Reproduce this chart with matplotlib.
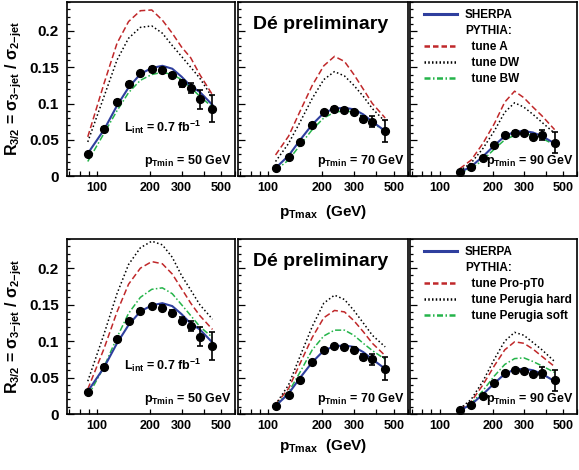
import numpy as np
import matplotlib
matplotlib.use('Agg')
import matplotlib.pyplot as plt
from matplotlib.lines import Line2D
from matplotlib.ticker import FixedLocator, FixedFormatter, MultipleLocator, NullFormatter

plt.rcParams['font.family'] = ['Liberation Sans', 'DejaVu Sans']
plt.rcParams['font.weight'] = 'bold'
plt.rcParams['mathtext.fontset'] = 'custom'
plt.rcParams['mathtext.rm'] = 'Liberation Sans:bold'
plt.rcParams['mathtext.it'] = 'Liberation Sans:bold'
plt.rcParams['mathtext.bf'] = 'Liberation Sans:bold'
plt.rcParams['mathtext.sf'] = 'Liberation Sans:bold'

# pTmax bin centres (GeV)
pt_bins = [89, 110, 130, 151, 176, 204, 234, 266, 300, 338, 380, 448]
pt_min = [50, 70, 90]
first_bin = [0, 1, 2]   # first bin used for each pTmin

# D0 data
data_50 = [0.030, 0.065, 0.1025, 0.127, 0.1416, 0.148, 0.146, 0.139, 0.128, 0.121, 0.106, 0.093]
err_50 = [0.002, 0.002, 0.002, 0.002, 0.002, 0.002, 0.003, 0.003, 0.005, 0.007, 0.013, 0.019]
data_70 = [0.0106, 0.0267, 0.0464, 0.071, 0.0879, 0.0929, 0.0915, 0.0883, 0.0786, 0.0749, 0.062]
err_70 = [0.001, 0.001, 0.001, 0.002, 0.002, 0.002, 0.002, 0.003, 0.004, 0.008, 0.0156]
data_90 = [0.0055, 0.0129, 0.0244, 0.0432, 0.056, 0.060, 0.0589, 0.0543, 0.0566, 0.046]
err_90 = [0.001, 0.001, 0.001, 0.001, 0.002, 0.002, 0.002, 0.003, 0.0075, 0.0143]

# SHERPA
sherpa_50 = [0.031, 0.064, 0.097, 0.122, 0.1407, 0.149, 0.152, 0.148, 0.137, 0.124, 0.116, 0.098]
sherpa_70 = [0.011, 0.028, 0.050, 0.071, 0.087, 0.093, 0.094, 0.092, 0.085, 0.075, 0.062]
sherpa_90 = [0.005, 0.013, 0.027, 0.042, 0.055, 0.061, 0.062, 0.060, 0.055, 0.045]

# PYTHIA, top row tunes
tuneA_50 = [0.054, 0.128, 0.183, 0.213, 0.228, 0.229, 0.215, 0.197, 0.178, 0.163, 0.140, 0.112]
tuneA_70 = [0.029, 0.055, 0.090, 0.125, 0.152, 0.165, 0.158, 0.140, 0.120, 0.100, 0.080]
tuneA_90 = [0.010, 0.022, 0.045, 0.072, 0.102, 0.117, 0.108, 0.095, 0.083, 0.064]
tuneDW_50 = [0.047, 0.110, 0.160, 0.190, 0.205, 0.207, 0.197, 0.180, 0.165, 0.150, 0.135, 0.108]
tuneDW_70 = [0.020, 0.045, 0.075, 0.107, 0.133, 0.144, 0.138, 0.125, 0.110, 0.093, 0.075]
tuneDW_90 = [0.007, 0.018, 0.038, 0.062, 0.088, 0.101, 0.095, 0.085, 0.074, 0.059]
tuneBW_50 = [0.020, 0.059, 0.090, 0.115, 0.132, 0.140, 0.143, 0.140, 0.133, 0.122, 0.110, 0.095]
tuneBW_70 = [0.008, 0.022, 0.043, 0.064, 0.080, 0.088, 0.090, 0.088, 0.082, 0.073, 0.062]
tuneBW_90 = [0.004, 0.010, 0.022, 0.037, 0.050, 0.056, 0.058, 0.056, 0.052, 0.043]

# PYTHIA, bottom row tunes
propt0_50 = [0.034, 0.090, 0.140, 0.178, 0.200, 0.209, 0.206, 0.192, 0.172, 0.152, 0.135, 0.116]
propt0_70 = [0.013, 0.035, 0.070, 0.105, 0.132, 0.142, 0.140, 0.128, 0.113, 0.097, 0.080]
propt0_90 = [0.006, 0.017, 0.040, 0.066, 0.088, 0.099, 0.097, 0.089, 0.079, 0.065]
phard_50 = [0.045, 0.110, 0.165, 0.205, 0.228, 0.237, 0.232, 0.215, 0.190, 0.170, 0.150, 0.130]
phard_70 = [0.013, 0.040, 0.080, 0.120, 0.152, 0.163, 0.157, 0.142, 0.125, 0.108, 0.092]
phard_90 = [0.007, 0.020, 0.045, 0.075, 0.100, 0.112, 0.108, 0.098, 0.088, 0.072]
psoft_50 = [0.024, 0.065, 0.105, 0.138, 0.160, 0.171, 0.173, 0.165, 0.150, 0.135, 0.120, 0.105]
psoft_70 = [0.012, 0.030, 0.058, 0.088, 0.107, 0.115, 0.115, 0.108, 0.097, 0.087, 0.075]
psoft_90 = [0.005, 0.014, 0.032, 0.052, 0.068, 0.076, 0.077, 0.072, 0.066, 0.057]

y_ticks = [0, 0.05, 0.1, 0.15, 0.2]
y_tick_labels = ['0', '0.05', '0.1', '0.15', '0.2']

blue = '#2f3f9e'
red = '#c0282a'
green = '#25b44a'

styles = {
    'sherpa': dict(color=blue, lw=1.5, ls='-'),
    'dash': dict(color=red, lw=1.1, ls=(0, (4, 2))),
    'dot': dict(color='black', lw=1.1, ls=(0, (1, 1.6))),
    'dashdot': dict(color=green, lw=1.1, ls=(0, (4, 1.5, 1, 1.5))),
}

data = [data_50, data_70, data_90]
errs = [err_50, err_70, err_90]
sherpa = [sherpa_50, sherpa_70, sherpa_90]
rows = [
    {'dash': [tuneA_50, tuneA_70, tuneA_90],
     'dot': [tuneDW_50, tuneDW_70, tuneDW_90],
     'dashdot': [tuneBW_50, tuneBW_70, tuneBW_90],
     'labels': ['tune A', 'tune DW', 'tune BW']},
    {'dash': [propt0_50, propt0_70, propt0_90],
     'dot': [phard_50, phard_70, phard_90],
     'dashdot': [psoft_50, psoft_70, psoft_90],
     'labels': ['tune Pro-pT0', 'tune Perugia hard', 'tune Perugia soft']},
]

fig = plt.figure(figsize=(5.79, 4.70), dpi=100)

W, H = 579.0, 470.0
col_px = [(67, 235), (238, 408), (410, 577)]
row_px = [(2, 176), (239, 414)]
xlabel_y = [212, 446]

for r, row in enumerate(rows):
    yt, yb = row_px[r]
    fig.text(14 / W, 1 - (yt + yb) / 2 / H,
             r'$R_{3/2}$ = $\sigma_{3\mathrm{-}jet}$ / $\sigma_{2\mathrm{-}jet}$',
             rotation=90, ha='center', va='center', fontsize=11.5)
    fig.text(323 / W, 1 - xlabel_y[r] / H, r'$p_{Tmax}$  (GeV)',
             ha='center', va='center', fontsize=11)
    for c in range(3):
        x0, x1 = col_px[c]
        ax = fig.add_axes([x0 / W, 1 - yb / H, (x1 - x0) / W, (yb - yt) / H])
        x = pt_bins[first_bin[c]:]

        ax.plot(x, row['dash'][c], **styles['dash'])
        ax.plot(x, row['dot'][c], **styles['dot'])
        ax.plot(x, row['dashdot'][c], **styles['dashdot'])
        ax.plot(x, sherpa[c], **styles['sherpa'])
        ax.errorbar(x, data[c], yerr=errs[c], fmt='o', color='black',
                    ms=5.6, elinewidth=1.2, capsize=2, capthick=1.2, zorder=5)

        ax.set_xscale('log')
        ax.set_xlim(68, 600)
        ax.set_ylim(0, 0.24)

        ax.xaxis.set_major_locator(FixedLocator([100, 200, 300, 500]))
        ax.xaxis.set_major_formatter(FixedFormatter(['100', '200', '300', '500']))
        ax.xaxis.set_minor_locator(FixedLocator([70, 80, 90, 400, 600]))
        ax.xaxis.set_minor_formatter(NullFormatter())
        ax.yaxis.set_major_locator(FixedLocator(y_ticks))
        ax.yaxis.set_minor_locator(MultipleLocator(0.01))
        if c == 0:
            ax.yaxis.set_major_formatter(FixedFormatter(y_tick_labels))
        else:
            ax.yaxis.set_major_formatter(NullFormatter())
        ax.tick_params(which='both', direction='in', top=False, right=False, width=0.9)
        ax.tick_params(axis='y', which='major', length=5, labelsize=11, pad=6)
        ax.tick_params(axis='y', which='minor', length=2.5)
        ax.tick_params(axis='x', which='both', length=3.5, labelsize=9, pad=4)
        for sp in ax.spines.values():
            sp.set_linewidth(1.2)

        if c == 0:
            ax.text(0.57, 0.28, r'$L_{int}$ = 0.7 fb$^{-1}$', transform=ax.transAxes,
                    ha='center', va='center', fontsize=9)
        ax.text(0.98, 0.085, r'$p_{Tmin}$ = %d GeV' % pt_min[c], transform=ax.transAxes,
                ha='right', va='center', fontsize=9)
        if c == 1:
            ax.text(0.09, 0.87, 'Dé preliminary', transform=ax.transAxes,
                    ha='left', va='center', fontsize=14)
        if c == 2:
            handles = [Line2D([], [], color=blue, lw=2.2),
                       Line2D([], [], color='none'),
                       Line2D([], [], color=red, lw=1.8, ls=(0, (2.2, 1.2))),
                       Line2D([], [], color='black', lw=1.8, ls=(0, (0.6, 0.9))),
                       Line2D([], [], color=green, lw=1.8, ls=(0, (2.4, 1.0, 0.6, 1.0)))]
            labels = ['SHERPA', 'PYTHIA:'] + ['  ' + s for s in row['labels']]
            ax.legend(handles, labels, loc='upper left', bbox_to_anchor=(0.04, 1.0),
                      frameon=False, fontsize=8.5, handlelength=2.8,
                      handletextpad=0.7, labelspacing=0.33, borderaxespad=0.2)

fig.savefig('out.png', dpi=100)
